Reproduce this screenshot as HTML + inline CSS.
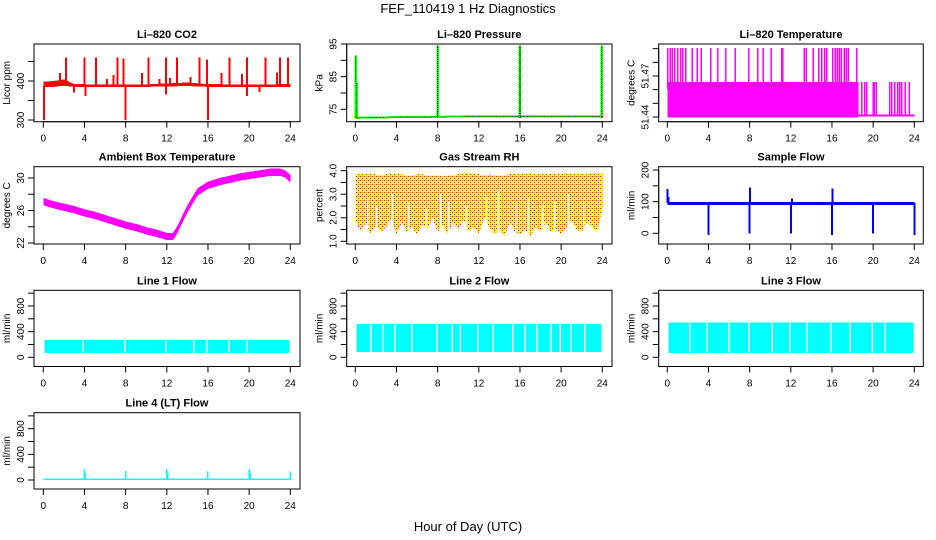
<!DOCTYPE html>
<html><head><meta charset="utf-8"><style>
body{margin:0;background:#fff}
svg{display:block;font-family:"Liberation Sans",Arial,sans-serif}
</style></head><body>
<svg id="c" width="936" height="540" viewBox="0 0 936 540">
<defs>
<pattern id="rhpat" width="4" height="4" patternUnits="userSpaceOnUse">
<rect width="4" height="4" fill="#ffff00"/>
<rect x="0" y="0" width="1" height="1" fill="#ff0000"/>
<rect x="2" y="2" width="1" height="1" fill="#ff0000"/>
<rect x="2" y="0" width="1" height="1" fill="#ff8000"/>
</pattern>
</defs>
<text x="468" y="13" text-anchor="middle" font-size="13">FEF_110419  1 Hz Diagnostics</text>
<text x="468" y="531" text-anchor="middle" font-size="13">Hour of Day (UTC)</text>
</svg>
<script>
// ---- data ----
const xTicks=[0,4,8,12,16,20,24];
const co2BandHours=[0,1,2,3,6,10,12,14,16,20,24];
const co2Low=[384,385,388,385,385,385,386,387,385,384,384];
const co2High=[398,400,404,392,391,391,394,396,392,391,392];
const co2SpikeHours=[0.05,2.2,4.0,5.1,7.2,7.8,8.0,10.2,11.9,13.0,15.2,15.9,16.0,18.1,19.8,21.6,23.0,23.8,1.6,6.2,6.8,9.6,11.3,12.3,14.3,17.3,19.3,22.7,4.1,11.9,19.8,3.0,21.0];
const co2SpikeVals=[300,460,460,460,460,458,300,460,460,460,460,455,300,460,460,460,460,460,420,405,415,420,405,408,410,420,418,422,362,365,362,370,372];
const presHours=[0,0.2,4,8,13,16,24];
const presVals=[72.4,72.4,72.6,72.7,72.8,72.8,72.8];
const presSpikeHours=[0.05,0.15,8.0,16.0,23.95];
const presSpikeVals=[91.5,83,94.5,94.5,94.5];
const liTempFillEnd=18.6;
const liTempSpikeHours=[0.05,0.3,0.5,0.7,1.0,1.3,1.5,1.8,2.4,2.9,3.3,4.2,4.9,5.7,6.6,7.9,8.8,9.3,10.1,11.1,11.2,13.3,13.5,14.2,14.7,15.0,15.3,15.5,16.1,16.3,16.5,16.7,16.9,17.2,17.4,17.6,18.4];
const liTempLateSpikes=[18.9,19.2,19.4,20.0,20.1,20.3,21.6,21.8,22.1,22.4,22.6,22.8,23.1,23.5];
const ambHours=[0,1,2,3,4,5,6,7,8,9,10,11,12,12.6,13,14,15,16,17,18,19,20,21,22,23,23.5,24];
const ambVals=[27.1,26.7,26.4,26.1,25.7,25.4,25.0,24.6,24.2,23.9,23.5,23.2,22.8,22.8,23.6,26.2,28.3,29.1,29.5,29.8,30.1,30.3,30.5,30.7,30.7,30.5,29.9];
const rhHours=[0,0.5,1,1.5,2,2.5,3,3.5,4,4.5,5,5.5,6,6.5,7,7.5,8,8.5,9,9.5,10,10.5,11,11.5,12,12.5,13,13.5,14,14.5,15,15.5,16,16.5,17,17.5,18,18.5,19,19.5,20,20.5,21,21.5,22,22.5,23,23.5,24];
const rhTop=[3.85,3.85,3.85,3.85,3.85,3.8,3.85,3.85,3.85,3.85,3.8,3.8,3.85,3.85,3.8,3.8,3.8,3.75,3.8,3.8,3.85,3.9,3.9,3.85,3.85,3.8,3.85,3.8,3.8,3.8,3.85,3.85,3.85,3.85,3.9,3.85,3.85,3.85,3.85,3.85,3.85,3.9,3.85,3.9,3.85,3.85,3.9,3.9,3.9];
const rhLow=[1.9,1.4,1.8,1.3,1.7,1.4,1.6,2.0,1.3,1.8,1.4,1.6,1.3,1.7,1.5,2.0,1.4,1.7,1.3,1.8,1.5,1.9,1.4,1.6,1.3,2.0,1.6,1.3,1.5,1.2,1.8,1.4,1.3,1.5,1.2,1.6,1.4,1.8,1.4,1.5,1.3,1.6,1.9,1.5,1.4,1.8,1.6,1.4,2.4];
const rhGapHours=[1.2,2.1,3.6,5.2,6.9,8.3,9.1,10.8,12.7,13.9,15.6,16.8,18.2,19.4,20.7,22.2];
const rhGapTops=[2.8,2.5,3.0,2.6,2.4,3.0,2.7,2.5,2.9,3.2,2.6,2.8,2.5,2.7,3.0,2.6];
const flowHours=[0,24];
const flowVals=[95,95];
const flowSpikeHours=[0,0.1,4.0,8.0,8.05,12.0,12.1,16.0,16.05,20.0,24.0];
const flowSpikeVals=[140,115,-5,0,145,0,110,-5,142,0,-5];
const line1Lo=70, line1Hi=270;
const line1Gaps=[3.9,7.9,11.9,15.9,19.8,14.6,18.0];
const line2Lo=80, line2Hi=520;
const line2Gaps=[1.5,2.7,3.9,5.5,7.9,9.4,10.2,11.9,13.4,15.3,16.5,17.7,19.0,19.9,21.0,22.3];
const line3Lo=70, line3Hi=540;
const line3Gaps=[3.9,7.9,11.9,15.9,19.9,2.2,6.0,10.2,13.6,17.8,21.2];
const line4Base=10;
const line4SpikeHours=[4,4.1,8,12,12.1,16,20,20.1,24];
const line4SpikeVals=[170,110,140,170,120,130,170,110,130];

// ---- drawing ----
const svg=document.getElementById('c');
const NS='http://www.w3.org/2000/svg';
function el(tag,attrs,parent){const e=document.createElementNS(NS,tag);for(const k in attrs)e.setAttribute(k,attrs[k]);(parent||svg).appendChild(e);return e;}
const cols=[{bx0:34,bx1:300,h0:43.3,h24:290.3},{bx0:346.7,bx1:612,h0:355.3,h24:602.3},{bx0:658.7,bx1:923.3,h0:667.3,h24:914.3}];
const rows=[{by0:44,by1:121.7},{by0:166.7,by1:244},{by0:290.3,by1:366.5},{by0:412.7,by1:489}];

function panel(name,title,r,c,yRef,ticks,labels,ylab){
  const g=el('g',{});
  
  
  const R=rows[r],C=cols[c];
  const X=h=>C.h0+h*(C.h24-C.h0)/24;
  const Y=v=>yRef[1]+(v-yRef[0])*(yRef[3]-yRef[1])/(yRef[2]-yRef[0]);
  const t=el('text',{x:(C.bx0+C.bx1)/2,y:R.by0-6,'text-anchor':'middle','font-size':11,'font-weight':'bold'},g);
  t.textContent=title;
  
  
  const data=el('g',{'shape-rendering':'crispEdges'},g);
  const axes=el('g',{stroke:'#000','stroke-width':1,fill:'none'},g);
  el('rect',{x:C.bx0,y:R.by0,width:C.bx1-C.bx0,height:R.by1-R.by0},axes);
  const ay=R.by1;
  el('line',{x1:X(0),x2:X(24),y1:ay,y2:ay},axes);
  xTicks.forEach(h=>{el('line',{x1:X(h),x2:X(h),y1:ay,y2:ay+6},axes);
    const tl=el('text',{x:X(h),y:ay+20,'text-anchor':'middle','font-size':10,fill:'#000',stroke:'none'},g);tl.textContent=h;});
  el('line',{x1:C.bx0,x2:C.bx0,y1:Y(ticks[0]),y2:Y(ticks[ticks.length-1])},axes);
  ticks.forEach(v=>el('line',{x1:C.bx0-6,x2:C.bx0,y1:Y(v),y2:Y(v)},axes));
  labels.forEach(l=>{const yy=Y(l[0]);const tl=el('text',{x:C.bx0-10,y:yy,'text-anchor':'middle','font-size':10,transform:`rotate(-90 ${C.bx0-10} ${yy})`},g);tl.textContent=l[1];});
  const yl=el('text',{x:C.bx0-24,y:(R.by0+R.by1)/2,'text-anchor':'middle','font-size':10,transform:`rotate(-90 ${C.bx0-24} ${(R.by0+R.by1)/2})`},g);
  yl.textContent=ylab;
  
  
  return {X,Y,g:data};
}
function vline(p,h,v1,v2,col,w,name){const l=el('line',{x1:p.X(h),x2:p.X(h),y1:p.Y(v1),y2:p.Y(v2),stroke:col,'stroke-width':w||1.5},p.g);
  
  return l;}
function band(p,hs,lo,hi,col,name){let pts=hs.map((h,i)=>p.X(h)+','+p.Y(hi[i]));for(let i=hs.length-1;i>=0;i--)pts.push(p.X(hs[i])+','+p.Y(lo[i]));
  const e=el('polygon',{points:pts.join(' '),fill:col},p.g);
  
  return e;}

// 1 CO2
let p=panel('co2-panel','Li\u2013820 CO2',0,0,[300,120,400,81],[300,350,400,450],[[300,'300'],[400,'400']],'Licor ppm');
band(p,co2BandHours,co2Low,co2High,'#ff0000','co2-band');
co2SpikeHours.forEach((h,i)=>vline(p,h,388,co2SpikeVals[i],'#ff0000',2,'co2-spike'));
// 2 Pressure
p=panel('pressure-panel','Li\u2013820 Pressure',0,1,[95,44,75,109.3],[75,80,85,90,95],[[75,'75'],[85,'85'],[95,'95']],'kPa');
let pl=el('polyline',{points:presHours.map((h,i)=>p.X(h)+','+p.Y(presVals[i])).join(' '),fill:'none',stroke:'#00ff00','stroke-width':2},p.g);


presSpikeHours.forEach((h,i)=>{vline(p,h,72.4,presSpikeVals[i],'#00ff00',2.5,'pressure-spike');vline(p,h,72.4,presSpikeVals[i],'#000',0.8,'pressure-spike-dots').setAttribute('stroke-dasharray','1 1');});
pl=el('polyline',{points:presHours.map((h,i)=>p.X(h)+','+p.Y(presVals[i])).join(' '),fill:'none',stroke:'#000','stroke-width':0.8,'stroke-dasharray':'1 2'},p.g);


// 3 Li820 temperature
p=panel('li820-temp-panel','Li\u2013820 Temperature',0,2,[51.44,117,51.47,76],[51.44,51.45,51.46,51.47,51.48,51.49],[[51.44,'51.44'],[51.47,'51.47']],'degrees C');
let fr=el('rect',{x:p.X(0),y:p.Y(51.4655),width:p.X(liTempFillEnd)-p.X(0),height:p.Y(51.4395)-p.Y(51.4655),fill:'#ff00ff'},p.g);


pl=el('line',{x1:p.X(liTempFillEnd),x2:p.X(24),y1:p.Y(51.4412),y2:p.Y(51.4412),stroke:'#ff00ff','stroke-width':2},p.g);


liTempSpikeHours.forEach(h=>vline(p,h,51.46,51.4905,'#ff00ff',1.5,'li820-temp-spike'));
liTempLateSpikes.forEach(h=>vline(p,h,51.441,51.4655,'#ff00ff',1.5,'li820-temp-late-spike'));
// 4 Ambient
p=panel('ambient-temp-panel','Ambient Box Temperature',1,0,[30,178,22,243],[22,24,26,28,30],[[22,'22'],[26,'26'],[30,'30']],'degrees C');
band(p,ambHours,ambVals.map(v=>v-0.45),ambVals.map(v=>v+0.45),'#ff00ff','ambient-temp-band');
// 5 RH
p=panel('rh-panel','Gas Stream RH',1,1,[4,170.7,1,241.3],[1,1.5,2,2.5,3,3.5,4],[[1,'1.0'],[2,'2.0'],[3,'3.0'],[4,'4.0']],'percent');
band(p,rhHours,rhLow,rhTop,'url(#rhpat)','rh-band');
rhGapHours.forEach((h,i)=>vline(p,h,1.0,rhGapTops[i],'#ffffff',1.5,'rh-gap'));
// 6 Sample flow
p=panel('sample-flow-panel','Sample Flow',1,2,[200,170,0,233.3],[0,50,100,150,200],[[0,'0'],[100,'100'],[200,'200']],'ml/min');
band(p,flowHours,flowVals.map(v=>v-6),flowVals.map(v=>v+4),'#0000ff','sample-flow-band');
flowSpikeHours.forEach((h,i)=>vline(p,h,95,flowSpikeVals[i],'#0000ff',2,'sample-flow-spike'));
// 7-9 line flows
const flowTicks=[0,200,400,600,800,1000],flowLabels=[[0,'0'],[400,'400'],[800,'800']];
function lineFlow(name,title,r,c,lo,hi,gaps){
  const q=panel(name,title,r,c,[0,357.3+(r-2)*122.7,800,306+(r-2)*122.7],flowTicks,flowLabels,'ml/min');
  const b=el('rect',{x:q.X(0.1),y:q.Y(hi),width:q.X(23.9)-q.X(0.1),height:q.Y(lo)-q.Y(hi),fill:'#00ffff'},q.g);
  
  
  gaps.forEach(h=>vline(q,h,lo-2,hi+2,'#ffffff',1.5,'flow-gap'));
  return q;
}
lineFlow('line1-flow-panel','Line 1 Flow',2,0,line1Lo,line1Hi,line1Gaps);
lineFlow('line2-flow-panel','Line 2 Flow',2,1,line2Lo,line2Hi,line2Gaps);
lineFlow('line3-flow-panel','Line 3 Flow',2,2,line3Lo,line3Hi,line3Gaps);
// 10 line 4
p=panel('line4-flow-panel','Line 4 (LT) Flow',3,0,[0,480,800,428.7],flowTicks,flowLabels,'ml/min');
band(p,[0,24],[line4Base-8,line4Base-8],[line4Base+12,line4Base+12],'#00ffff','line4-base');
line4SpikeHours.forEach((h,i)=>vline(p,h,line4Base,line4SpikeVals[i],'#00ffff',1.5,'line4-spike'));
</script>
</body></html>
